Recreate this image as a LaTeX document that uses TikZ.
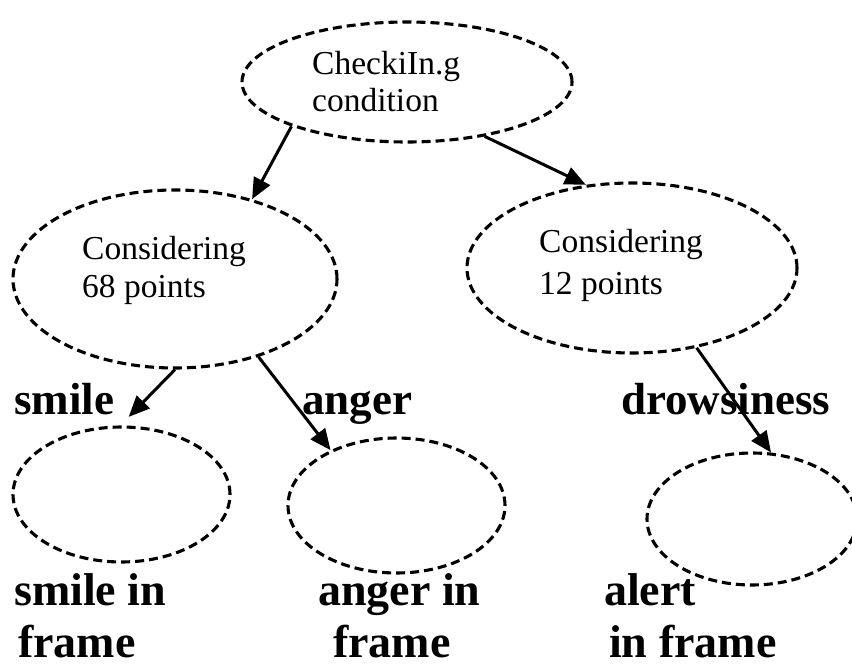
\documentclass[tikz,border=0pt]{standalone}
\usepackage{fontspec}
\setmainfont{Liberation Serif}
\usetikzlibrary{shapes.geometric,arrows.meta}
\begin{document}
\begin{tikzpicture}[x=1pt,y=-1pt,
  ell/.style={draw, ellipse, line width=3.1pt, dash pattern=on 9pt off 5pt, inner sep=0pt},
  arr/.style={line width=3pt, -{Triangle[length=21pt,width=18pt]}},
  intext/.style={anchor=base west, inner sep=0pt, font=\fontsize{33.5}{36}\selectfont},
  lbl/.style={anchor=base west, inner sep=0pt, font=\fontsize{45}{50}\selectfont\bfseries},
  blbl/.style={anchor=base west, inner sep=0pt, text depth=0pt, font=\fontsize{46}{50}\selectfont\bfseries}]
\useasboundingbox (0,0) rectangle (852,668);
% ellipses
\node[ell, minimum width=330pt, minimum height=120pt] (top) at (407,82) {};
\node[ell, minimum width=324pt, minimum height=178pt] (m1) at (175,279) {};
\node[ell, minimum width=330pt, minimum height=170pt] (m2) at (632,268) {};
\node[ell, minimum width=217pt, minimum height=135pt] (b1) at (121.5,494.5) {};
\node[ell, minimum width=217pt, minimum height=135pt] (b2) at (396.5,505.5) {};
\node[ell, minimum width=210pt, minimum height=132pt] (b3) at (752,519) {};
% texts inside ellipses
\node[intext] (t1) at (312,75) {CheckiIn.g};
\node[intext] (t2) at (312,112) {condition};
\node[intext] (t3) at (82,260) {Considering};
\node[intext] (t4) at (82,298) {68 points};
\node[intext] (t5) at (539,253) {Considering};
\node[intext] (t6) at (539,295) {12 points};
% labels
\node[lbl] (l1) at (14,415) {smile};
\node[lbl] (l2) at (302,415) {anger};
\node[lbl] (l3) at (621,415) {drowsiness};
\node[blbl] (l4) at (14,605) {smile in};
\node[blbl] (l5) at (18,657) {frame};
\node[blbl] (l6) at (318,605) {anger in};
\node[blbl] (l7) at (333,657) {frame};
\node[blbl] (l8) at (604,605) {alert};
\node[blbl] (l9) at (609,657) {in frame};
% arrows
\draw[arr] (top.201.6) -- (m1.46.5);
\draw[arr] (top.-35.2) -- (m2.119.5);
\draw[arr, shorten >=12pt] (m1.-90) -- (b1.91.7);
\draw[arr] (m1.-43.6) -- (b2.140.7);
\draw[arr] (m2.-51.3) -- (b3.74.7);
\end{tikzpicture}
\end{document}
